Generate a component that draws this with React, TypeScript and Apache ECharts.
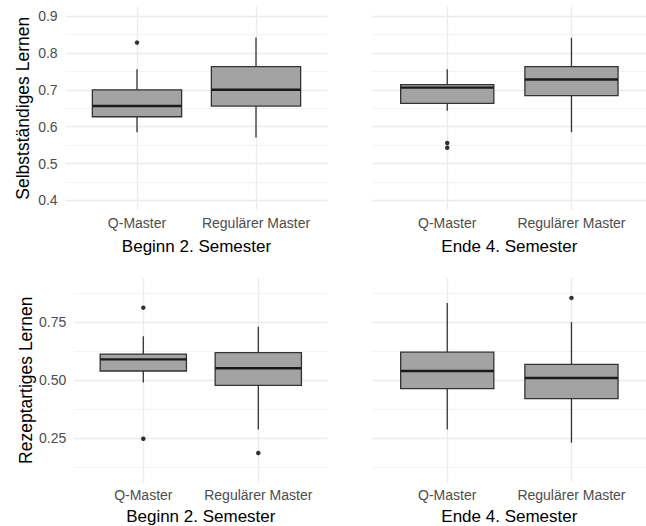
import React, { useEffect, useRef } from 'react';
import * as echarts from 'echarts';

const categories = ['Q-Master', 'Regulärer Master'];
const panelTitles = ['Beginn 2. Semester', 'Ende 4. Semester'];
const yTitles = ['Selbstständiges Lernen', 'Rezeptartiges Lernen'];

const topTicks = [0.4, 0.5, 0.6, 0.7, 0.8, 0.9];
const topMinor = [0.45, 0.55, 0.65, 0.75, 0.85];
const bottomTicks = [0.25, 0.5, 0.75];
const bottomMinor = [0.125, 0.375, 0.625, 0.875];

// box statistics: [lower whisker, Q1, median, Q3, upper whisker]
const selbstBeginnQ = [0.585, 0.627, 0.656, 0.7, 0.756];
const selbstBeginnR = [0.571, 0.656, 0.7, 0.763, 0.842];
const selbstEndeQ = [0.643, 0.663, 0.706, 0.714, 0.756];
const selbstEndeR = [0.585, 0.684, 0.728, 0.763, 0.841];
const rezeptBeginnQ = [0.49, 0.54, 0.59, 0.613, 0.69];
const rezeptBeginnR = [0.288, 0.478, 0.552, 0.619, 0.731];
const rezeptEndeQ = [0.288, 0.464, 0.54, 0.621, 0.833];
const rezeptEndeR = [0.231, 0.421, 0.51, 0.569, 0.751];

// outliers
const selbstBeginnQOut = [0.828];
const selbstBeginnROut: number[] = [];
const selbstEndeQOut = [0.556, 0.543];
const selbstEndeROut: number[] = [];
const rezeptBeginnQOut = [0.813, 0.248];
const rezeptBeginnROut = [0.187];
const rezeptEndeQOut: number[] = [];
const rezeptEndeROut = [0.855];

const FONT = 'Liberation Sans, Arial, Helvetica, sans-serif';

export default function App() {
  const ref = useRef<HTMLDivElement>(null);

  useEffect(() => {
    if (!ref.current) return;
    const chart = echarts.init(ref.current, undefined, { renderer: 'svg' });

    const panels = [
      { box: [selbstBeginnQ, selbstBeginnR], out: [selbstBeginnQOut, selbstBeginnROut], row: 0, col: 0,
        grid: { left: 65.6, top: 6.8, width: 261.8, height: 202.9 }, nameGap: 28 },
      { box: [selbstEndeQ, selbstEndeR], out: [selbstEndeQOut, selbstEndeROut], row: 0, col: 1,
        grid: { left: 372.7, top: 6.8, width: 286, height: 202.9 }, nameGap: 28 },
      { box: [rezeptBeginnQ, rezeptBeginnR], out: [rezeptBeginnQOut, rezeptBeginnROut], row: 1, col: 0,
        grid: { left: 74.3, top: 278.2, width: 253, height: 204.2 }, nameGap: 25.5 },
      { box: [rezeptEndeQ, rezeptEndeR], out: [rezeptEndeQOut, rezeptEndeROut], row: 1, col: 1,
        grid: { left: 372.7, top: 278.2, width: 286, height: 204.2 }, nameGap: 25.5 },
    ];

    const grids: any[] = [];
    const xAxes: any[] = [];
    const yAxes: any[] = [];
    const series: any[] = [];

    panels.forEach((p, i) => {
      grids.push({ ...p.grid, containLabel: false });
      const ticks = p.row === 0 ? topTicks : bottomTicks;
      const minor = p.row === 0 ? topMinor : bottomMinor;
      const yMin = p.row === 0 ? 0.375 : 0.06;
      const yMax = p.row === 0 ? 0.925 : 0.94;
      const decimals = p.row === 0 ? 1 : 2;

      xAxes.push({
        type: 'value', gridIndex: i, min: 0.4, max: 2.6,
        axisLine: { show: false },
        axisTick: { show: false, customValues: [1, 2] },
        axisLabel: {
          customValues: [1, 2], margin: 6, fontSize: 14, color: '#4D4D4D', fontFamily: FONT,
          formatter: (v: number) => categories[Math.round(v) - 1] ?? '',
        },
        splitLine: { show: true, lineStyle: { color: '#EBEBEB', width: 1.3 } },
        name: panelTitles[p.col], nameLocation: 'middle', nameGap: p.nameGap,
        nameTextStyle: { fontSize: 17, color: '#000', fontFamily: FONT },
      });

      yAxes.push({
        type: 'value', gridIndex: i, min: yMin, max: yMax, position: 'left',
        axisLine: { show: false },
        axisTick: { show: false, customValues: ticks },
        axisLabel: {
          show: p.col === 0, customValues: ticks, margin: 8, fontSize: 14, color: '#4D4D4D', fontFamily: FONT,
          formatter: (v: number) => v.toFixed(decimals),
        },
        splitLine: { show: true, lineStyle: { color: '#EBEBEB', width: 1.3 } },
        name: p.col === 0 ? yTitles[p.row] : '', nameLocation: 'middle', nameRotate: 90, nameGap: 34,
        nameTextStyle: { fontSize: 17.5, color: '#000', fontFamily: FONT },
      });
      yAxes.push({
        type: 'value', gridIndex: i, min: yMin, max: yMax, position: 'right',
        axisLine: { show: false },
        axisTick: { show: false, customValues: minor },
        axisLabel: { show: false, customValues: minor },
        splitLine: { show: true, lineStyle: { color: '#F0F0F0', width: 0.8 } },
      });

      series.push({
        type: 'custom', xAxisIndex: i, yAxisIndex: 2 * i,
        data: p.box.map((b, k) => [k + 1, ...b]),
        encode: { x: 0, y: [1, 2, 3, 4, 5] },
        clip: false,
        renderItem: (params: any, api: any) => {
          const x = api.value(0);
          const lo = api.coord([x, api.value(1)]);
          const q1 = api.coord([x, api.value(2)]);
          const med = api.coord([x, api.value(3)]);
          const q3 = api.coord([x, api.value(4)]);
          const hi = api.coord([x, api.value(5)]);
          const half = api.size([0.75, 0])[0] / 2;
          const cx = lo[0];
          const stroke = '#333333';
          return {
            type: 'group',
            children: [
              { type: 'line', shape: { x1: cx, y1: hi[1], x2: cx, y2: q3[1] }, style: { stroke, lineWidth: 1.3 } },
              { type: 'line', shape: { x1: cx, y1: q1[1], x2: cx, y2: lo[1] }, style: { stroke, lineWidth: 1.3 } },
              { type: 'rect', shape: { x: cx - half, y: q3[1], width: 2 * half, height: q1[1] - q3[1] },
                style: { fill: '#A3A3A3', stroke, lineWidth: 1.3 } },
              { type: 'line', shape: { x1: cx - half, y1: med[1], x2: cx + half, y2: med[1] },
                style: { stroke: '#1A1A1A', lineWidth: 2.4 } },
            ],
          };
        },
      });

      const outData: number[][] = [];
      p.out.forEach((vals, k) => vals.forEach((v) => outData.push([k + 1, v])));
      series.push({
        type: 'scatter', xAxisIndex: i, yAxisIndex: 2 * i,
        data: outData, symbol: 'circle', symbolSize: 4.5,
        itemStyle: { color: '#000' }, z: 5,
      });
    });

    chart.setOption({
      animation: false,
      backgroundColor: '#FFFFFF',
      textStyle: { fontFamily: FONT },
      grid: grids,
      xAxis: xAxes,
      yAxis: yAxes,
      series,
    });

    return () => chart.dispose();
  }, []);

  return (
    <div
      ref={ref}
      style={{ position: 'fixed', left: 0, top: 0, width: 646, height: 526 }}
    />
  );
}
